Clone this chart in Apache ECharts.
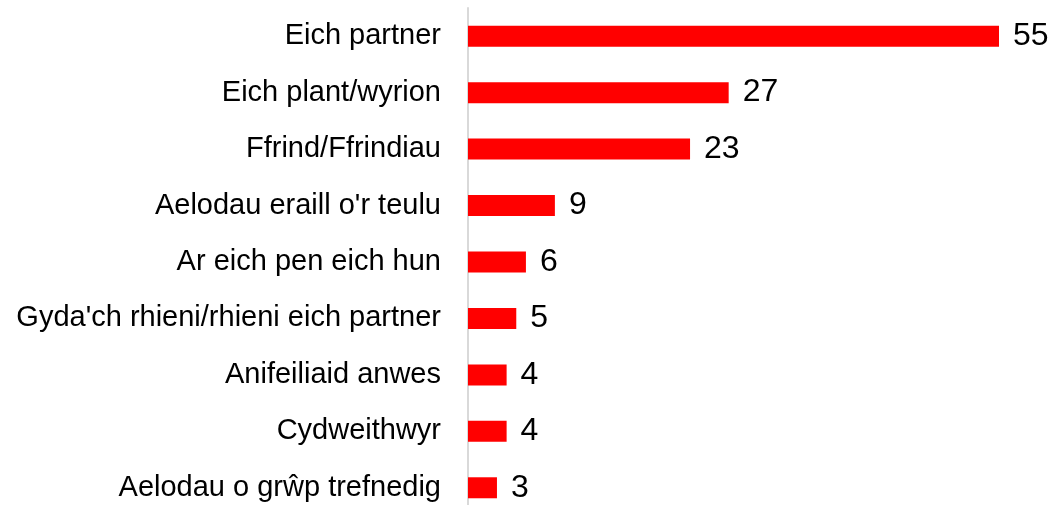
<!DOCTYPE html>
<html>
<head>
<meta charset="utf-8">
<script src="https://cdn.jsdelivr.net/npm/echarts@6/dist/echarts.min.js"></script>
<style>
  html, body { margin: 0; padding: 0; background: #fff; }
  #chart { width: 1056px; height: 505px; }
</style>
</head>
<body>
<div id="chart"></div>
<script>
// Categories, top to bottom
const categories = [
  "Eich partner",
  "Eich plant/wyrion",
  "Ffrind/Ffrindiau",
  "Aelodau eraill o'r teulu",
  "Ar eich pen eich hun",
  "Gyda'ch rhieni/rhieni eich partner",
  "Anifeiliaid anwes",
  "Cydweithwyr",
  "Aelodau o grŵp trefnedig"
];
const values = [55, 27, 23, 9, 6, 5, 4, 4, 3];

const chart = echarts.init(document.getElementById('chart'), null, { renderer: 'canvas' });
chart.setOption({
  animation: false,
  grid: {
    left: 468, top: 8, width: 531, height: 508,
    containLabel: false,
    outerBoundsMode: 'none'
  },
  xAxis: {
    type: 'value',
    min: 0,
    max: 55,
    show: false
  },
  yAxis: {
    type: 'category',
    inverse: true,
    data: categories,
    axisLine: { show: true, lineStyle: { color: '#d9d9d9', width: 2 } },
    axisTick: { show: false },
    axisLabel: {
      margin: 27,
      color: '#000',
      fontFamily: 'Liberation Sans, Arial, sans-serif',
      fontSize: 29
    }
  },
  series: [{
    type: 'bar',
    data: values,
    barWidth: 21,
    itemStyle: { color: '#ff0000' },
    label: {
      show: true,
      position: 'right',
      distance: 14,
      color: '#000',
      fontFamily: 'Liberation Sans, Arial, sans-serif',
      fontSize: 32
    }
  }]
});
</script>
</body>
</html>
